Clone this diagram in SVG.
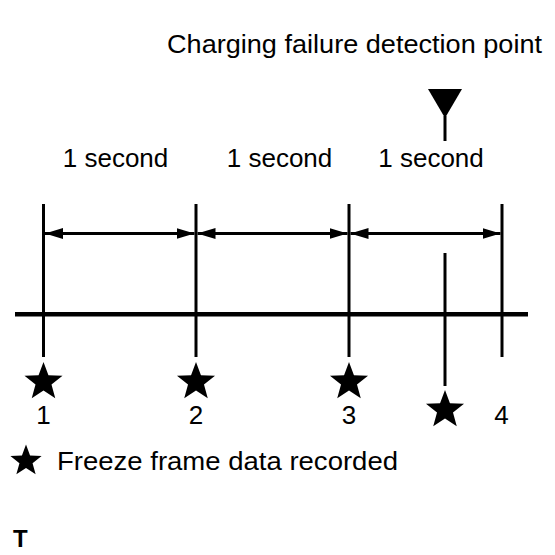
<svg xmlns="http://www.w3.org/2000/svg" width="555" height="555" viewBox="0 0 555 555">
  <style>
    .t { font-family: "Liberation Sans", Arial, sans-serif; fill: #000; }
    .lbl { font-size: 26px; }
    .num { font-size: 26px; text-anchor: middle; }
    .tick { stroke: #000; stroke-width: 3; fill: none; }
    .axis { stroke: #000; stroke-width: 4.5; fill: none; }
    .dim { stroke: #000; stroke-width: 2.8; fill: none; marker-start: url(#ah); marker-end: url(#ah); }
  </style>
  <defs>
    <marker id="ah" viewBox="0 0 18 11" refX="18" refY="5.5" markerWidth="18" markerHeight="11" markerUnits="userSpaceOnUse" orient="auto-start-reverse">
      <path d="M0,0 L18,5.5 L0,11 Z" fill="#000"/>
    </marker>
    <polygon id="star" points="0,-20 4.94,-6.8 19.02,-6.18 7.99,2.6 11.76,16.18 0,8.4 -11.76,16.18 -7.99,2.6 -19.02,-6.18 -4.94,-6.8" fill="#000"/>
  </defs>

  <rect width="555" height="555" fill="#fff"/>

  <g id="title">
    <text class="t lbl" x="167" y="53" textLength="375" lengthAdjust="spacingAndGlyphs">Charging failure detection point</text>
  </g>

  <g id="detection-marker">
    <polygon points="428,89 462,89 445,118" fill="#000"/>
    <line x1="445" y1="116" x2="445" y2="141" class="tick"/>
  </g>

  <g id="interval-labels">
    <text class="t lbl" x="115.5" y="167" text-anchor="middle">1 second</text>
    <text class="t lbl" x="279.5" y="167" text-anchor="middle">1 second</text>
    <text class="t lbl" x="431" y="167" text-anchor="middle">1 second</text>
  </g>

  <g id="axis">
    <line x1="15" y1="314.3" x2="528" y2="314.3" class="axis"/>
  </g>

  <g id="tick-1"><line x1="43.5" y1="204" x2="43.5" y2="357" class="tick"/></g>
  <g id="tick-2"><line x1="196" y1="204" x2="196" y2="357" class="tick"/></g>
  <g id="tick-3"><line x1="349" y1="204" x2="349" y2="357" class="tick"/></g>
  <g id="tick-4"><line x1="502" y1="204" x2="502" y2="357" class="tick"/></g>
  <g id="tick-detect"><line x1="445" y1="253" x2="445" y2="386" class="tick"/></g>

  <g id="connectors">
    <line x1="45" y1="233.5" x2="194.5" y2="233.5" class="dim"/>
    <line x1="197.5" y1="233.5" x2="347.5" y2="233.5" class="dim"/>
    <line x1="350.5" y1="233.5" x2="500.5" y2="233.5" class="dim"/>
  </g>

  <g id="record-1">
    <use href="#star" x="43.5" y="382"/>
    <text class="t num" x="43.5" y="424">1</text>
  </g>
  <g id="record-2">
    <use href="#star" x="196" y="382"/>
    <text class="t num" x="196" y="424">2</text>
  </g>
  <g id="record-3">
    <use href="#star" x="349" y="382"/>
    <text class="t num" x="349" y="424">3</text>
  </g>
  <g id="record-detect">
    <use href="#star" x="445" y="410"/>
  </g>
  <g id="point-4">
    <text class="t num" x="501.5" y="424">4</text>
  </g>

  <g id="legend">
    <use href="#star" transform="translate(26,461) scale(0.82)"/>
    <text class="t lbl" x="57" y="470" textLength="341" lengthAdjust="spacingAndGlyphs">Freeze frame data recorded</text>
  </g>

  <g id="corner-mark">
    <text class="t" x="13" y="547" font-size="24" font-weight="bold">T</text>
  </g>
</svg>
